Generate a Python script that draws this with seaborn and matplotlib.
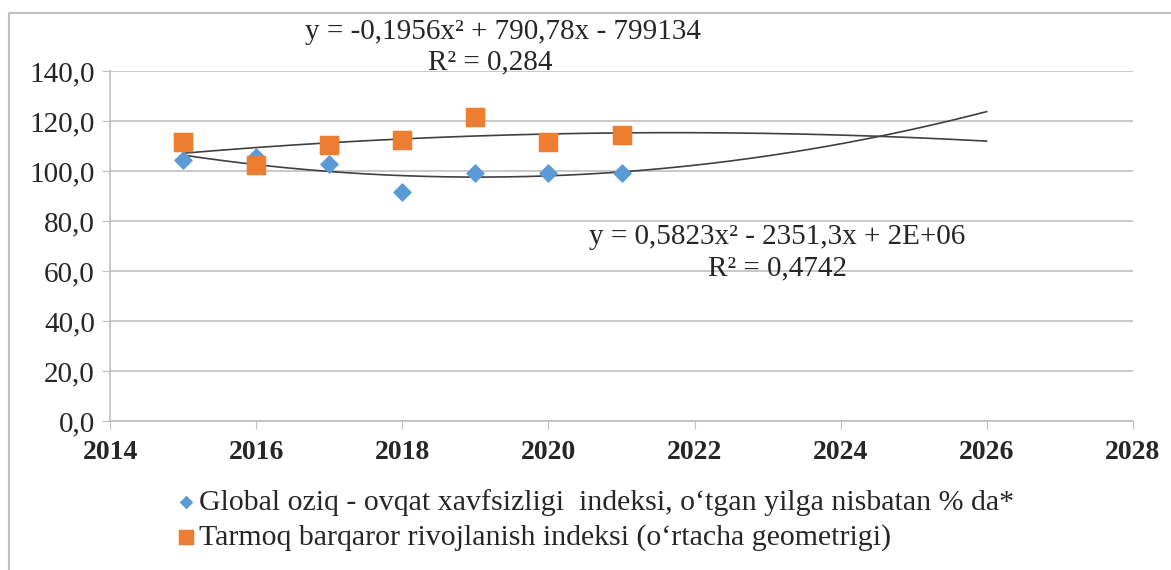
import numpy as np
import pandas as pd
import matplotlib
matplotlib.use("Agg")
import matplotlib.pyplot as plt
import seaborn as sns
from matplotlib.ticker import FuncFormatter
from matplotlib.lines import Line2D

# 数据
years = [2015, 2016, 2017, 2018, 2019, 2020, 2021]
global_food = [104.4, 105.5, 102.8, 91.7, 99.3, 99.2, 99.3]
branch_index = [111.7, 102.4, 110.4, 112.4, 121.7, 111.7, 114.4]
label_global = "Global oziq - ovqat xavfsizligi  indeksi, o\u2018tgan yilga nisbatan % da*"
label_branch = "Tarmoq barqaror rivojlanish indeksi (o\u2018rtacha geometrigi)"
eq_branch = "y = -0,1956x\u00b2 + 790,78x - 799134"
r2_branch = "R\u00b2 = 0,284"
eq_global = "y = 0,5823x\u00b2 - 2351,3x + 2E+06"
r2_global = "R\u00b2 = 0,4742"

df = pd.DataFrame({"year": years, "global": global_food, "branch": branch_index})

sns.set_style("white")
plt.rcParams['font.family'] = ['Liberation Serif', 'DejaVu Serif']

blue = "#5B9BD5"
orange = "#ED7D31"

fig = plt.figure(figsize=(11.71, 5.70), dpi=100)
ax = fig.add_axes([0.094, 0.2614, 0.8735, 0.614])

# 趋势线（二次多项式，预测到2026）
xs = np.linspace(2015, 2026, 200)
for col in ["global", "branch"]:
    c = np.polyfit(df["year"] - 2018, df[col], 2)
    ys = np.polyval(c, xs - 2018)
    sns.lineplot(x=xs, y=ys, ax=ax, color="#404040", lw=1.2, zorder=2)

sns.scatterplot(data=df, x="year", y="global", ax=ax, marker="D", s=80,
                color=blue, edgecolor=blue, zorder=3, label=label_global)
sns.scatterplot(data=df, x="year", y="branch", ax=ax, marker="s", s=180,
                color=orange, edgecolor=orange, zorder=3, label=label_branch)

ax.set_xlim(2014, 2028)
ax.set_ylim(0, 140)
ax.set_xticks(range(2014, 2029, 2))
ax.set_yticks(range(0, 141, 20))
ax.yaxis.set_major_formatter(FuncFormatter(lambda v, p: f"{v:.1f}".replace(".", ",")))
ax.grid(axis="y", color="#BFBFBF", lw=1.2)
ax.set_axisbelow(True)
for s in ["top", "right"]:
    ax.spines[s].set_visible(False)
ax.spines["left"].set_color("#BFBFBF")
ax.spines["bottom"].set_color("#BFBFBF")
ax.spines["left"].set_linewidth(1.2)
ax.spines["bottom"].set_linewidth(1.2)
ax.tick_params(axis="y", labelsize=21, length=6, color="#BFBFBF", pad=5)
ax.tick_params(axis="x", labelsize=20, length=6, color="#BFBFBF", pad=8)
ax.tick_params(left=True, bottom=True)
for t in ax.get_xticklabels():
    t.set_fontweight("bold")
ax.set_xlabel("")
ax.set_ylabel("")

ax.legend_.remove()
h, l = ax.get_legend_handles_labels()
fig.legend(h, l, loc="upper left", bbox_to_anchor=(0.137, 0.163), frameon=False,
           fontsize=21.5, handletextpad=0.0, handlelength=0.9, labelspacing=0.25,
           markerscale=0.7, borderaxespad=0)

# 方程文字
fig.text(503 / 1171, 1 - 32 / 570, eq_branch, ha="center", va="center", fontsize=21)
fig.text(490 / 1171, 1 - 62 / 570, r2_branch, ha="center", va="center", fontsize=21)
fig.text(777 / 1171, 1 - 237 / 570, eq_global, ha="center", va="center", fontsize=21)
fig.text(777 / 1171, 1 - 268 / 570, r2_global, ha="center", va="center", fontsize=21)

# 外框（上、左）
fig.lines.append(Line2D([9 / 1171, 9 / 1171, 1], [0, 1 - 13 / 570, 1 - 13 / 570],
                        transform=fig.transFigure, color="#BFBFBF", lw=1.5))

plt.savefig("out.png", dpi=100)
plt.close()
